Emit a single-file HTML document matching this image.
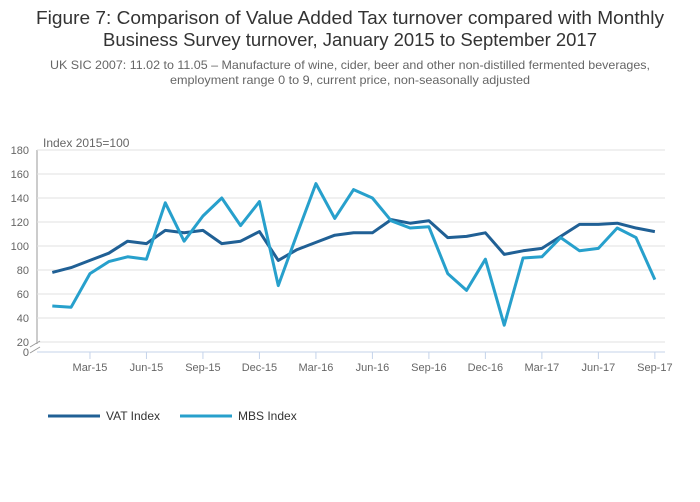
<!DOCTYPE html>
<html><head><meta charset="utf-8"><style>
body{margin:0;background:#fff;}
svg{display:block;font-family:"Liberation Sans",sans-serif;}
</style></head><body>
<svg id="chart" width="700" height="502">
<text x="350" y="24" text-anchor="middle" font-size="18.5" fill="#333" textLength="628" lengthAdjust="spacingAndGlyphs">Figure 7: Comparison of Value Added Tax turnover compared with Monthly</text>
<text x="350" y="46" text-anchor="middle" font-size="18.5" fill="#333" textLength="494" lengthAdjust="spacingAndGlyphs">Business Survey turnover, January 2015 to September 2017</text>
<text x="350" y="69" text-anchor="middle" font-size="12" fill="#666" textLength="600" lengthAdjust="spacingAndGlyphs">UK SIC 2007: 11.02 to 11.05 – Manufacture of wine, cider, beer and other non-distilled fermented beverages,</text>
<text x="350" y="84" text-anchor="middle" font-size="12" fill="#666" textLength="360" lengthAdjust="spacingAndGlyphs">employment range 0 to 9, current price, non-seasonally adjusted</text>
<text x="43" y="147" font-size="12" fill="#666">Index 2015=100</text>
<g id="grid"></g><g id="series"></g><g id="xaxis"></g>
<g>
<g><line x1="48" y1="416" x2="100" y2="416" stroke="#206095" stroke-width="3"/><text x="106" y="420" font-size="12" fill="#333">VAT Index</text></g>
<g><line x1="180" y1="416" x2="232" y2="416" stroke="#27a0cc" stroke-width="3"/><text x="238" y="420" font-size="12" fill="#333">MBS Index</text></g>
</g>
</svg>
<script>
const months=33;
const xTickLabels=["Mar-15","Jun-15","Sep-15","Dec-15","Mar-16","Jun-16","Sep-16","Dec-16","Mar-17","Jun-17","Sep-17"];
const xTickIdx=[2,5,8,11,14,17,20,23,26,29,32];
const yTicks=[20,40,60,80,100,120,140,160,180];
const vat=[78,82,88,94,104,102,113,111,113,102,104,112,88,97,103,109,111,111,122,119,121,107,108,111,93,96,98,108,118,118,119,115,112];
const mbs=[50,49,77,87,91,89,136,104,125,140,117,137,67,110,152,123,147,140,121,115,116,77,63,89,34,90,91,107,96,98,115,107,72];
const NS="http://www.w3.org/2000/svg";
const x=i=>52.3+i*18.83;
const y=v=>366-1.2*v;
function mk(t,a,p){const e=document.createElementNS(NS,t);for(const k in a)e.setAttribute(k,a[k]);p.appendChild(e);return e;}
const grid=document.getElementById('grid');
mk('line',{x1:37,y1:150,x2:37,y2:344,stroke:'#999'},grid);
yTicks.forEach(v=>{
 const l=mk('line',{x1:37,y1:y(v),x2:665,y2:y(v),stroke:'#e0e0e0'},grid);
 
 
 const t=mk('text',{x:29,y:y(v)+4,'text-anchor':'end','font-size':11,fill:'#666'},grid);
 t.textContent=v;
 
 
});
const t0=mk('text',{x:29,y:356,'text-anchor':'end','font-size':11,fill:'#666'},grid);t0.textContent='0';


mk('line',{x1:30,y1:347,x2:40,y2:341,stroke:'#999'},grid);
mk('line',{x1:30,y1:353,x2:40,y2:347,stroke:'#999'},grid);
const xa=document.getElementById('xaxis');
mk('line',{x1:37,y1:352,x2:665,y2:352,stroke:'#c4d3ea'},xa);
xTickIdx.forEach((idx,k)=>{
 mk('line',{x1:x(idx),y1:352,x2:x(idx),y2:359,stroke:'#c4d3ea'},xa);
 const t=mk('text',{x:x(idx),y:371,'text-anchor':'middle','font-size':11,fill:'#666'},xa);
 t.textContent=xTickLabels[k];
 
 
});
const s=document.getElementById('series');
function line(d,c,n){const p=mk('polyline',{points:d.map((v,i)=>x(i)+','+y(v)).join(' '),fill:'none',stroke:c,'stroke-width':3,'stroke-linejoin':'round'},s);
 
 }
line(vat,'#206095','vat-index-line');
line(mbs,'#27a0cc','mbs-index-line');
</script>
</body></html>
